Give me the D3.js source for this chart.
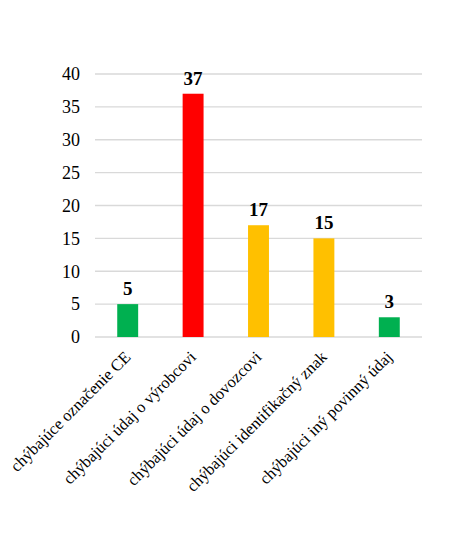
<!DOCTYPE html>
<html>
<head>
<meta charset="utf-8">
<script src="https://cdn.jsdelivr.net/npm/d3@7"></script>
<style>
  body { margin: 0; background: #fff; }
  text { font-family: "Liberation Serif", "Times New Roman", serif; }
</style>
</head>
<body>
<div id="chart"></div>
<script>
// data
var categories = ['chýbajúce označenie CE', 'chýbajúci údaj o výrobcovi',
    'chýbajúci údaj o dovozcovi', 'chýbajúci identifikačný znak',
    'chýbajúci iný povinný údaj'];
var counts = [5, 37, 17, 15, 3];
var barColors = ['#00B050', '#FF0000', '#FFC000', '#FFC000', '#00B050'];
var yTicks = [0, 5, 10, 15, 20, 25, 30, 35, 40];

var width = 450, height = 534;
var margin = { left: 95, right: 28, top: 74, bottom: 197 };

var svg = d3.select('#chart')
    .append('svg')
        .attr('width', width)
        .attr('height', height);

var x = d3.scaleBand()
    .domain(categories)
    .range([margin.left, width - margin.right])
    .paddingInner(0.68)
    .paddingOuter(0.34);

var y = d3.scaleLinear()
    .domain([0, 40])
    .range([height - margin.bottom, margin.top]);

// gridlines
svg.append('g')
    .selectAll('line')
    .data(yTicks)
    .enter()
    .append('line')
        .attr('x1', margin.left)
        .attr('x2', width - margin.right)
        .attr('y1', function(d) { return y(d); })
        .attr('y2', function(d) { return y(d); })
        .attr('stroke', '#d9d9d9')
        .attr('stroke-width', 1.3);

// y axis labels
var yAxis = d3.axisLeft(y)
    .tickValues(yTicks)
    .tickSize(0)
    .tickPadding(15);

svg.append('g')
    .attr('transform', 'translate(' + margin.left + ',0)')
    .call(yAxis)
    .call(function(g) { g.select('.domain').remove(); })
    .selectAll('text')
        .attr('font-family', '"Liberation Serif", serif')
        .attr('font-size', 18)
        .attr('fill', '#000');

// bars
svg.append('g')
    .selectAll('rect')
    .data(counts)
    .enter()
    .append('rect')
        .attr('x', function(d, i) { return x(categories[i]); })
        .attr('y', function(d) { return y(d); })
        .attr('width', x.bandwidth())
        .attr('height', function(d) { return y(0) - y(d); })
        .attr('fill', function(d, i) { return barColors[i]; });

// value labels
svg.append('g')
    .selectAll('text')
    .data(counts)
    .enter()
    .append('text')
        .attr('x', function(d, i) { return x(categories[i]) + x.bandwidth() / 2; })
        .attr('y', function(d) { return y(d) - 9; })
        .attr('text-anchor', 'middle')
        .attr('font-size', 19)
        .attr('font-weight', 'bold')
        .attr('fill', '#000')
        .text(function(d) { return d; });

// category labels, rotated
svg.append('g')
    .selectAll('text')
    .data(categories)
    .enter()
    .append('text')
        .attr('transform', function(d) {
            var cx = x(d) + x.bandwidth() / 2 + 4;
            return 'translate(' + cx + ',' + (y(0) + 21) + ') rotate(-45)';
        })
        .attr('text-anchor', 'end')
        .attr('font-size', 16.5)
        .attr('fill', '#000')
        .text(function(d) { return d; });
</script>
</body>
</html>
